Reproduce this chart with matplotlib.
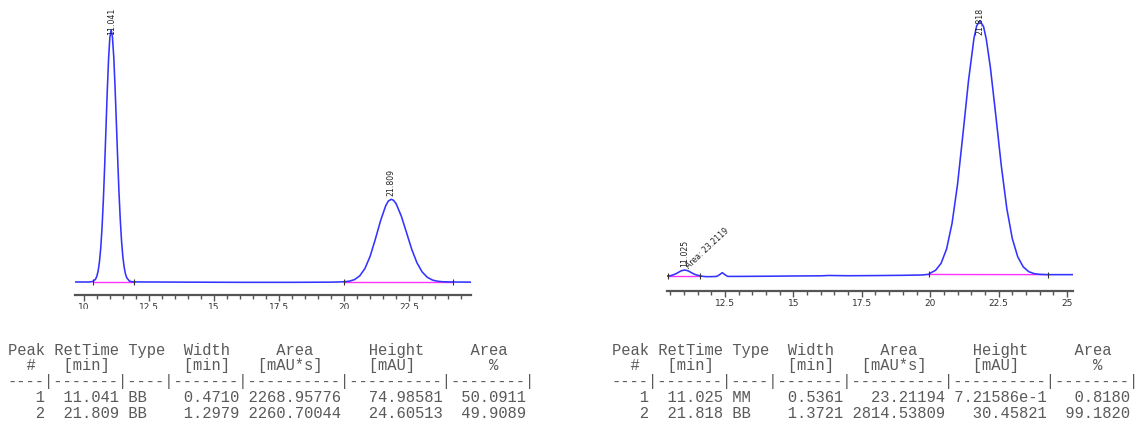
import matplotlib
matplotlib.use("Agg")
import matplotlib.pyplot as plt
from matplotlib.ticker import MultipleLocator, FuncFormatter
from matplotlib.transforms import blended_transform_factory, Bbox, TransformedBbox

# ---- chromatogram 1 (racemic) : time [min], signal [mAU]
run1_time = [9.65, 10.0, 10.2, 10.34, 10.44, 10.49, 10.54, 10.59, 10.64, 10.69, 10.74,
             10.79, 10.84, 10.89, 10.94, 10.99, 11.04, 11.09, 11.14, 11.19, 11.24,
             11.29, 11.34, 11.39, 11.44, 11.49, 11.54, 11.59, 11.64, 11.74, 11.84,
             11.95, 12.5, 14.0, 16.0, 18.0, 19.5, 20.0, 20.2, 20.4, 20.6, 20.8,
             21.0, 21.2, 21.4, 21.6, 21.7, 21.81, 21.9, 22.0, 22.2, 22.4, 22.6,
             22.8, 23.0, 23.2, 23.4, 23.6, 23.8, 24.2, 24.88]
run1_signal = [0.0, 0.0, 0.0, 0.16, 0.83, 1.71, 3.3, 5.97, 10.1, 16.2, 24.3,
               34.3, 45.5, 56.6, 66.2, 72.7, 75.0, 72.9, 67.0, 58.1, 47.6,
               36.9, 27.0, 18.7, 12.2, 7.55, 4.4, 2.43, 1.27, 0.29, 0.07,
               0.02, 0.0, -0.05, -0.1, -0.1, -0.05, 0.07, 0.24, 0.71, 1.82, 4.0,
               7.65, 12.7, 18.2, 22.7, 24.08, 24.6, 24.3, 23.3, 19.6, 14.7, 9.73,
               5.74, 3.0, 1.39, 0.57, 0.21, 0.07, 0.0, -0.05]

# ---- chromatogram 2 (enriched)
run2_time = [10.38, 10.5, 10.6, 10.7, 10.8, 10.9, 11.025, 11.15, 11.25, 11.35, 11.45,
             11.6, 11.8, 12.0, 12.2, 12.3, 12.4, 12.5, 12.6, 13.0, 14.0, 15.0,
             16.0, 16.3, 17.0, 18.0, 19.0, 19.7, 19.95, 20.0, 20.2, 20.4, 20.6,
             20.8, 21.0, 21.2, 21.4, 21.6, 21.7, 21.818, 21.95, 22.05, 22.2, 22.4,
             22.6, 22.8, 23.0, 23.2, 23.4, 23.6, 23.8, 24.0, 24.3, 25.22]
run2_signal = [0.0, 0.03, 0.13, 0.26, 0.44, 0.62, 0.72, 0.62, 0.44, 0.26, 0.13,
               0.0, -0.08, -0.08, -0.05, 0.15, 0.4, 0.15, -0.05, -0.05, -0.03, 0.0,
               0.02, 0.06, 0.03, 0.05, 0.08, 0.12, 0.2, 0.34, 0.69, 1.53, 3.25,
               6.33, 11.0, 17.1, 23.4, 28.5, 30.0, 30.6, 29.9, 28.4, 25.0, 19.2,
               13.2, 8.1, 4.5, 2.3, 1.1, 0.52, 0.28, 0.2, 0.16, 0.16]

# integration results
run1_rt = [11.041, 21.809]
run1_height = [74.98581, 24.60513]
run1_start = [10.34, 20.0]
run1_end = [11.92, 24.2]
run1_base = [(0.0, 0.0), (0.0, 0.0)]

run2_rt = [11.025, 21.818]
run2_height = [0.721586, 30.45821]
run2_start = [10.42, 19.95]
run2_end = [11.6, 24.3]
run2_base = [(0.0, 0.0), (0.18, 0.16)]
run2_area_note = ["Area: 23.2119", None]

# report tables (Agilent style text)
table_header = [
    "Peak RetTime Type  Width     Area      Height     Area  ",
    "  #   [min]        [min]   [mAU*s]     [mAU]        %   ",
    "----|-------|----|-------|----------|----------|--------|",
]
run1_rows = [
    "   1  11.041 BB    0.4710 2268.95776   74.98581  50.0911",
    "   2  21.809 BB    1.2979 2260.70044   24.60513  49.9089",
]
run2_rows = [
    "   1  11.025 MM    0.5361   23.21194 7.21586e-1   0.8180",
    "   2  21.818 BB    1.3721 2814.53809   30.45821  99.1820",
]

W, H = 1142, 423
SIGNAL = "#3333ff"
BASE = "#ff33ff"
AXIS = "#555555"


def px_axes(fig, left, right, bottom, top):
    # pixel box (from top-left) -> figure fraction axes
    return fig.add_axes([left / W, (H - bottom) / H, (right - left) / W, (bottom - top) / H])


def draw_run(fig, ax, time, signal, rt, height, start, end, base, notes, xlim, ylim):
    ax.plot(time, signal, color=SIGNAL, lw=1.15, zorder=3)
    for i in range(len(rt)):
        ax.plot([start[i], end[i]], [base[i][0], base[i][1]], color=BASE, lw=1.0, zorder=2)
        ax.plot([start[i], end[i]], [base[i][0], base[i][1]], ls="none", marker="|",
                ms=4, mew=0.8, color="#333333", zorder=4)
    ax.set_xlim(*xlim)
    ax.set_ylim(*ylim)

    for s in ["left", "right", "top"]:
        ax.spines[s].set_visible(False)
    ax.spines["bottom"].set_color(AXIS)
    ax.spines["bottom"].set_linewidth(1.6)
    ax.set_yticks([])
    ax.xaxis.set_major_locator(MultipleLocator(2.5))
    ax.xaxis.set_minor_locator(MultipleLocator(0.5))
    ax.xaxis.set_major_formatter(FuncFormatter(lambda v, p: "%g" % v))
    ax.tick_params(axis="x", which="major", length=4, width=1, color=AXIS,
                   labelsize=6.5, labelcolor="#333333", pad=1.5)
    ax.tick_params(axis="x", which="minor", length=3, width=1, color=AXIS)

    # peak labels, clipped near the top of the plot like the report does
    ax_h = ax.get_position().height * H
    cap = 1 - 35 / ax_h
    trans = blended_transform_factory(ax.transData, ax.transAxes)
    for i in range(len(rt)):
        frac = (height[i] + base[i][0] - ylim[0]) / (ylim[1] - ylim[0]) + 3 / ax_h
        frac = min(frac, cap)
        ax.text(rt[i], frac, "%.3f" % rt[i], transform=trans, rotation=90,
                ha="center", va="bottom", fontsize=5.6, color="#222222", zorder=5)
        if notes[i]:
            ax.text(rt[i] + 0.1, frac, notes[i], transform=trans, rotation=43,
                    rotation_mode="anchor", ha="left", va="center", fontsize=5.6,
                    color="#222222", zorder=5)


def draw_table(fig, x_px, rows):
    lines = table_header + rows
    for k, line in enumerate(lines):
        y_base = 354.5 + k * 15.9
        fig.text(x_px / W, 1 - y_base / H, line, family="Liberation Mono", fontsize=11.2,
                 color="#5a5a5a", ha="left", va="baseline")


if __name__ == "__main__":
    fig = plt.figure(figsize=(W / 100, H / 100), dpi=100)

    ax1 = px_axes(fig, 75, 471, 295, 0)
    draw_run(fig, ax1, run1_time, run1_signal, run1_rt, run1_height, run1_start, run1_end,
             run1_base, [None, None], (9.65, 24.88), (-3.87, 83.9))

    ax2 = px_axes(fig, 667, 1073, 291, 0)
    draw_run(fig, ax2, run2_time, run2_signal, run2_rt, run2_height, run2_start, run2_end,
             run2_base, run2_area_note, (10.38, 25.22), (-1.80, 33.09))

    draw_table(fig, 7.8, run1_rows)
    draw_table(fig, 612, run2_rows)

    # the report image cuts the tick numbers off at the bottom
    fig.canvas.draw()
    for ax, cut in [(ax1, 309), (ax2, 306)]:
        box = TransformedBbox(Bbox([[0, (H - cut) / H], [1, 1]]), fig.transFigure)
        for t in ax.xaxis.get_major_ticks():
            t.label1.set_clip_on(True)
            t.label1.set_clip_box(box)

    fig.savefig("out.png", dpi=100)
